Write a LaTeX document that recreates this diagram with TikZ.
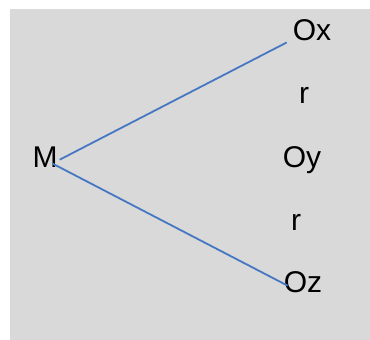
\documentclass[tikz,border=0pt]{standalone}
\usepackage{fontspec}
\setmainfont{Liberation Sans}
\usetikzlibrary{calc}
\definecolor{bggray}{HTML}{D9D9D9}
\definecolor{linkblue}{HTML}{4677C2}
\begin{document}
\begin{tikzpicture}[x=1pt,y=-1pt,
  lbl/.style={inner sep=0pt,anchor=base,font=\fontsize{30}{36}\selectfont},
  link/.style={draw=linkblue,line width=1.8pt}]
\useasboundingbox (0,0) rectangle (370,340);
\fill[bggray] (10,9) rectangle (370,340);
\node[lbl] (M) at (45,167) {M};
\node[lbl] (Ox) at (312,40) {Ox};
\node[lbl] (r1) at (304,103) {r};
\node[lbl] (Oy) at (302,167) {Oy};
\node[lbl] (r2) at (296,230) {r};
\node[lbl] (Oz) at (303,292) {Oz};
\draw[link] ($(M.east)+(2,3)$) -- ($(Ox.south west)+(-6,2)$);
\draw[link] ($(M.east)+(-5,7)$) -- ($(Oz.west)+(4,4)$);
\end{tikzpicture}
\end{document}
